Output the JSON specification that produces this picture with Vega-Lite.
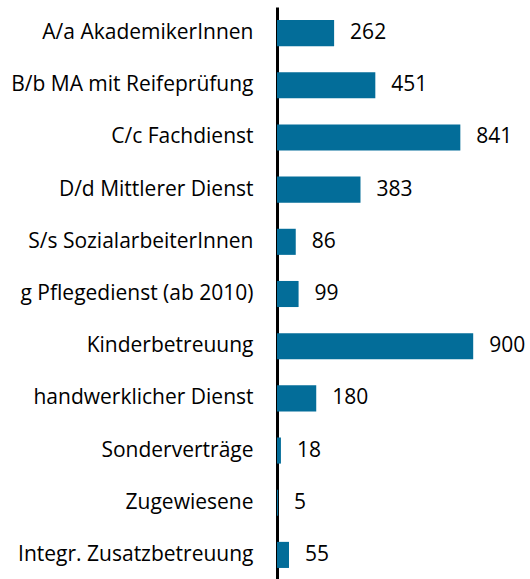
{
  "$schema": "https://vega.github.io/schema/vega-lite/v6.json",
  "width": 218,
  "height": 574,
  "autosize": {"type": "none"},
  "padding": {"left": 277, "top": 7, "right": 35, "bottom": 0},
  "background": "white",
  "config": {"view": {"stroke": null}, "font": "Open Sans"},
  "data": {
    "values": [
      {"cat": "A/a AkademikerInnen", "v": 262},
      {"cat": "B/b MA mit Reifeprüfung", "v": 451},
      {"cat": "C/c Fachdienst", "v": 841},
      {"cat": "D/d Mittlerer Dienst", "v": 383},
      {"cat": "S/s SozialarbeiterInnen", "v": 86},
      {"cat": "g Pflegedienst (ab 2010)", "v": 99},
      {"cat": "Kinderbetreuung", "v": 900},
      {"cat": "handwerklicher Dienst", "v": 180},
      {"cat": "Sonderverträge", "v": 18},
      {"cat": "Zugewiesene", "v": 5},
      {"cat": "Integr. Zusatzbetreuung", "v": 55}
    ]
  },
  "encoding": {
    "y": {
      "field": "cat", "type": "nominal", "sort": null, "title": null,
      "scale": {"paddingInner": 0.5, "paddingOuter": 0.25},
      "axis": {"domainColor": "black", "domainWidth": 3, "ticks": false, "labelPadding": 24, "labelFontSize": 21, "labelColor": "black", "labelFont": "Open Sans", "labelLimit": 300}
    },
    "x": {
      "field": "v", "type": "quantitative", "title": null,
      "scale": {"domain": [0, 1000]},
      "axis": null
    }
  },
  "layer": [
    {"mark": {"type": "bar", "color": "#036d99"}},
    {"mark": {"type": "text", "align": "left", "baseline": "middle", "dx": 16, "fontSize": 21, "font": "Open Sans", "color": "black"}, "encoding": {"text": {"field": "v", "type": "quantitative"}}}
  ]
}
